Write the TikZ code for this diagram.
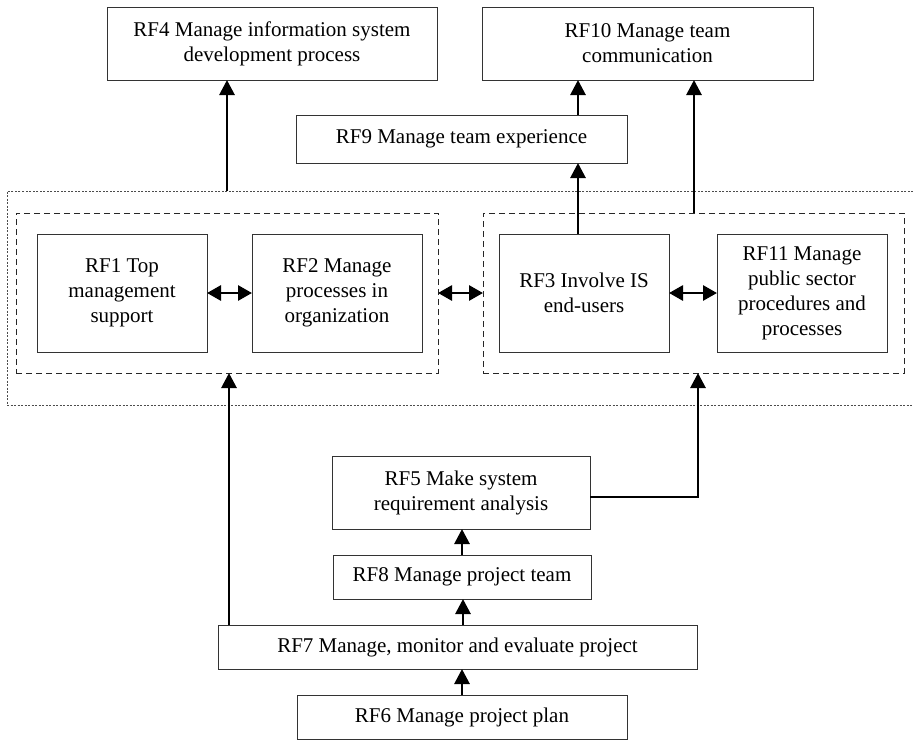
\documentclass[tikz,border=0pt]{standalone}
\usepackage{fontspec}
\setmainfont{Liberation Serif}
\usetikzlibrary{arrows.meta}
\begin{document}
\begin{tikzpicture}[x=1pt,y=-1pt,
  every node/.style={inner sep=0pt,outer sep=0pt},
  box/.style={draw=black!80,line width=0.9pt,fill=white,align=center,
    font=\fontsize{21}{25}\selectfont},
  group/.style={draw=black!85,line width=1pt,dash pattern=on 6pt off 4pt},
  outer/.style={draw=black!70,line width=0.8pt,dash pattern=on 2pt off 1.5pt},
  tip/.style={Triangle[length=15pt,width=15pt]},
  arr/.style={line width=2.8pt,-{Triangle[length=15pt,width=15pt]}},
  darr/.style={line width=2.8pt,{Triangle[length=14pt,width=15pt]}-{Triangle[length=14pt,width=15pt]}}]
\useasboundingbox (0,0) rectangle (913,740);

% outer dotted region, open towards the right edge
\draw[outer] (913,191) -- (7,191) -- (7,405) -- (913,405);
\coordinate (outertop) at (227,191);

% top row
\node[box,minimum width=330,minimum height=73] (rf4) at (272,43.5)
  {RF4 Manage information system\\development process};
\node[box,minimum width=331,minimum height=73] (rf10) at (647.5,43.5)
  {RF10 Manage team\\communication};
\node[box,minimum width=331,minimum height=48] (rf9) at (461.5,139)
  {RF9 Manage team experience};

% grouped factors
\node[group,minimum width=422,minimum height=160] (lg) at (227,293) {};
\node[group,minimum width=421,minimum height=160] (rg) at (693.5,293) {};
\node[box,minimum width=170,minimum height=118] (rf1) at (122,293)
  {RF1 Top\\management\\support};
\node[box,minimum width=170,minimum height=118] (rf2) at (337,293)
  {RF2 Manage\\processes in\\organization};
\node[box,minimum width=170,minimum height=118] (rf3) at (584,293)
  {RF3 Involve IS\\end-users};
\node[box,minimum width=170,minimum height=118] (rf11) at (802,293)
  {RF11 Manage\\public sector\\procedures and\\processes};

% lower chain
\node[box,minimum width=258,minimum height=73] (rf5) at (461,492.5)
  {RF5 Make system\\requirement analysis};
\node[box,minimum width=258,minimum height=44] (rf8) at (462,577)
  {RF8 Manage project team};
\node[box,minimum width=479,minimum height=44] (rf7) at (457.5,647)
  {RF7 Manage, monitor and evaluate project};
\node[box,minimum width=330,minimum height=44] (rf6) at (462,717)
  {RF6 Manage project plan};

% connectors
\draw[arr] (outertop) -- (outertop |- rf4.south);
\draw[arr] ([xshift=-6pt]rf3.north) -- ([xshift=-6pt]rf3.north |- rf9.south);
\draw[arr] ([xshift=116.5pt]rf9.north) -- ([xshift=116.5pt]rf9.north |- rf10.south);
\draw[arr] ([xshift=0.5pt]rg.north) -- ([xshift=0.5pt]rg.north |- rf10.south);

\draw[darr] (rf1.east) -- (rf2.west);
\draw[darr] (lg.east) -- (rg.west);
\draw[darr] (rf3.east) -- (rf11.west);

\draw[arr] ([xshift=2pt]rf7.north -| lg.south) -- ([xshift=2pt]lg.south);
\draw[arr] ([yshift=-4.5pt]rf5.east) -| ([xshift=4.5pt]rg.south);
\draw[arr] (rf8.north) -- (rf8.north |- rf5.south);
\draw[arr] ([xshift=5.5pt]rf7.north) -- ([xshift=5.5pt]rf7.north |- rf8.south);
\draw[arr] (rf6.north) -- (rf6.north |- rf7.south);
\end{tikzpicture}
\end{document}
